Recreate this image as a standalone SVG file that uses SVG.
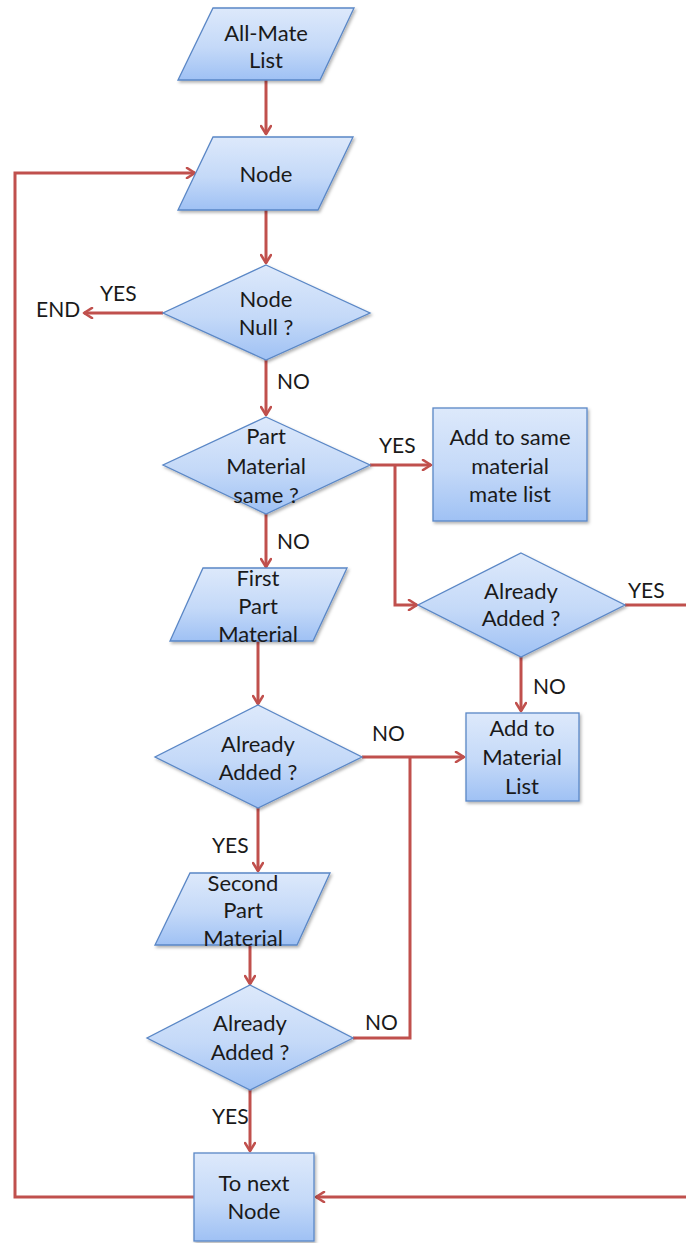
<svg xmlns="http://www.w3.org/2000/svg" width="686" height="1243" viewBox="0 0 686 1243">
  <defs>
    <linearGradient id="fillBlue" x1="0" y1="0" x2="0" y2="1">
      <stop offset="0" stop-color="#dde9fb"/>
      <stop offset="0.55" stop-color="#c4d9f8"/>
      <stop offset="1" stop-color="#9fc1f4"/>
    </linearGradient>
    <filter id="shadow" x="-10%" y="-10%" width="125%" height="125%">
      <feDropShadow dx="1.5" dy="2" stdDeviation="1.5" flood-color="#000" flood-opacity="0.3"/>
    </filter>
    <marker id="arrow" viewBox="0 0 12 12" refX="10" refY="6" markerWidth="12" markerHeight="12" markerUnits="userSpaceOnUse" orient="auto">
      <path d="M2,1 L10,6 L2,11" fill="none" stroke="#c0504d" stroke-width="2.6" stroke-linecap="round" stroke-linejoin="round"/>
    </marker>
    <style>
      .shape { fill: url(#fillBlue); stroke: #5a87c6; stroke-width: 1.3; filter: url(#shadow); }
      .lbl { font-family: Lato, "Open Sans", "Liberation Sans", sans-serif; font-size: 22px; fill: #1a1a1a; text-anchor: middle; }
      .edge { fill: none; stroke: #c0504d; stroke-width: 3; }
      .edge-lbl { font-family: Lato, "Open Sans", "Liberation Sans", sans-serif; font-size: 21px; fill: #1a1a1a; }
    </style>
  </defs>

  <!-- connectors -->
  <g id="connectors">
    <path class="edge" d="M266,80 V134" marker-end="url(#arrow)"/>
    <path class="edge" d="M194,1197 H15 V173 H195" marker-end="url(#arrow)"/>
    <path class="edge" d="M266,210 V263" marker-end="url(#arrow)"/>
    <path class="edge" d="M163,313 H84" marker-end="url(#arrow)"/>
    <path class="edge" d="M266,360 V415" marker-end="url(#arrow)"/>
    <path class="edge" d="M370,465 H431" marker-end="url(#arrow)"/>
    <path class="edge" d="M395,465 V605 H417" marker-end="url(#arrow)"/>
    <path class="edge" d="M625,605 H700 V1197 H316" marker-end="url(#arrow)"/>
    <path class="edge" d="M521,657 V711" marker-end="url(#arrow)"/>
    <path class="edge" d="M266,514 V567" marker-end="url(#arrow)"/>
    <path class="edge" d="M258,641 V704" marker-end="url(#arrow)"/>
    <path class="edge" d="M362,757 H464" marker-end="url(#arrow)"/>
    <path class="edge" d="M353,1038 H410 V757"/>
    <path class="edge" d="M258,808 V871" marker-end="url(#arrow)"/>
    <path class="edge" d="M250,945 V984" marker-end="url(#arrow)"/>
    <path class="edge" d="M250,1090 V1151" marker-end="url(#arrow)"/>

    <text class="edge-lbl" x="100" y="301">YES</text>
    <text class="edge-lbl" x="36" y="317">END</text>
    <text class="edge-lbl" x="277" y="389">NO</text>
    <text class="edge-lbl" x="379" y="453">YES</text>
    <text class="edge-lbl" x="277" y="549">NO</text>
    <text class="edge-lbl" x="628" y="598">YES</text>
    <text class="edge-lbl" x="533" y="694">NO</text>
    <text class="edge-lbl" x="372" y="741">NO</text>
    <text class="edge-lbl" x="212" y="853">YES</text>
    <text class="edge-lbl" x="365" y="1030">NO</text>
    <text class="edge-lbl" x="212" y="1124">YES</text>
  </g>

  <g id="all-mate-list">
    <polygon class="shape" points="213,8 354,8 320,80 178,80"/>
    <text class="lbl" x="266" y="41">All-Mate</text>
    <text class="lbl" x="266" y="68">List</text>
  </g>

  <g id="node">
    <polygon class="shape" points="213,137 353,137 318,210 178,210"/>
    <text class="lbl" x="266" y="182">Node</text>
  </g>

  <g id="node-null">
    <polygon class="shape" points="266,265 370,313 266,360 163,313"/>
    <text class="lbl" x="266" y="307">Node</text>
    <text class="lbl" x="266" y="335">Null ?</text>
  </g>

  <g id="material-same">
    <polygon class="shape" points="266,417 370,465 266,514 163,465"/>
    <text class="lbl" x="266" y="444">Part</text>
    <text class="lbl" x="266" y="474">Material</text>
    <text class="lbl" x="266" y="503">same ?</text>
  </g>

  <g id="add-same-material">
    <rect class="shape" x="433" y="408" width="154" height="113"/>
    <text class="lbl" x="510" y="445">Add to same</text>
    <text class="lbl" x="510" y="474">material</text>
    <text class="lbl" x="510" y="502">mate list</text>
  </g>

  <g id="already-added-1">
    <polygon class="shape" points="521,553 625,605 521,657 418,605"/>
    <text class="lbl" x="521" y="599">Already</text>
    <text class="lbl" x="521" y="626">Added ?</text>
  </g>

  <g id="add-material-list">
    <rect class="shape" x="466" y="713" width="113" height="88"/>
    <text class="lbl" x="522" y="736">Add to</text>
    <text class="lbl" x="522" y="765">Material</text>
    <text class="lbl" x="522" y="794">List</text>
  </g>

  <g id="first-part-material">
    <polygon class="shape" points="203,568 347,568 313,641 170,641"/>
    <text class="lbl" x="258" y="586">First</text>
    <text class="lbl" x="258" y="614">Part</text>
    <text class="lbl" x="258" y="642">Material</text>
  </g>

  <g id="already-added-2">
    <polygon class="shape" points="258,705 362,757 258,808 155,757"/>
    <text class="lbl" x="258" y="752">Already</text>
    <text class="lbl" x="258" y="780">Added ?</text>
  </g>

  <g id="second-part-material">
    <polygon class="shape" points="190,873 330,873 297,945 155,945"/>
    <text class="lbl" x="243" y="891">Second</text>
    <text class="lbl" x="243" y="918">Part</text>
    <text class="lbl" x="243" y="946">Material</text>
  </g>

  <g id="already-added-3">
    <polygon class="shape" points="250,985 353,1038 250,1090 147,1038"/>
    <text class="lbl" x="250" y="1031">Already</text>
    <text class="lbl" x="250" y="1060">Added ?</text>
  </g>

  <g id="to-next-node">
    <rect class="shape" x="194" y="1153" width="120" height="88"/>
    <text class="lbl" x="254" y="1191">To next</text>
    <text class="lbl" x="254" y="1219">Node</text>
  </g>
</svg>
